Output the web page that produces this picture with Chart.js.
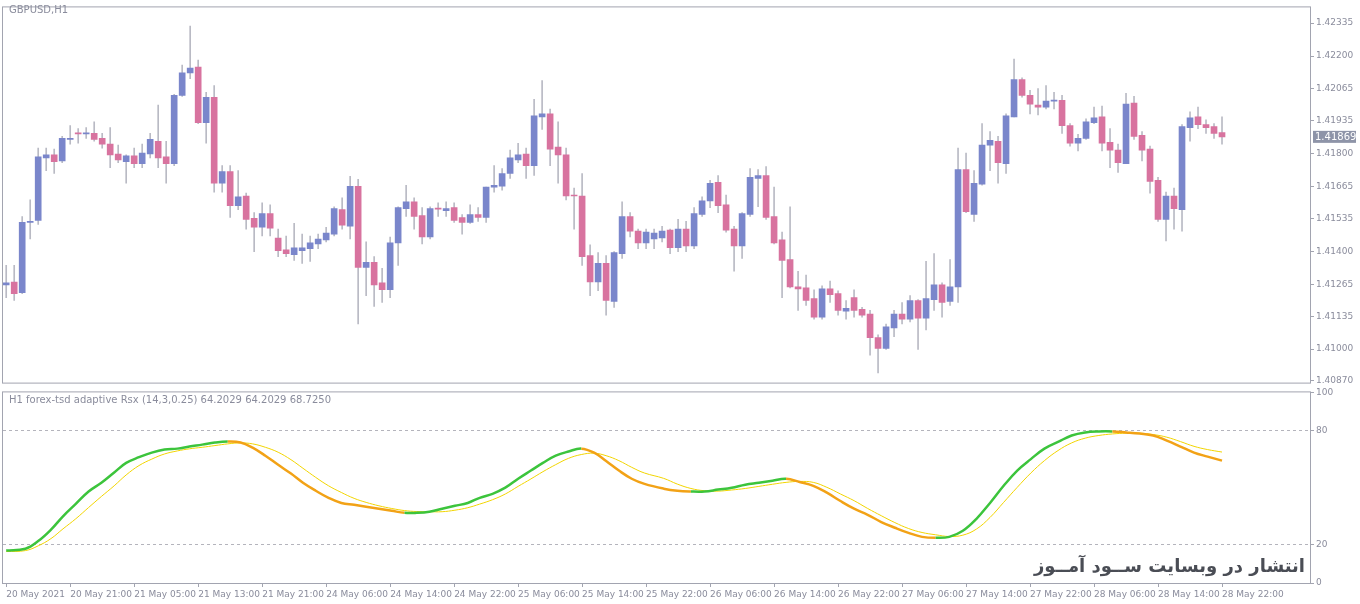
<!DOCTYPE html>
<html lang="en">
<head>
<meta charset="UTF-8">
<title>GBPUSD H1 - adaptive Rsx</title>
<script src="https://cdn.jsdelivr.net/npm/chart.js"></script>
<style>
  html, body { margin: 0; padding: 0; background: #fff; }
  #wrap { position: relative; width: 1360px; height: 604px; overflow: hidden; }
  .pane { position: absolute; left: 0; width: 1360px; }
  .lbl { position: absolute; font: 10px "DejaVu Sans", sans-serif; color: #8a8c9c; white-space: nowrap; }
  #mark { position: absolute; right: 55px; top: 555px; font: bold 18px "DejaVu Sans", sans-serif; color: #4a4d55; direction: rtl; }
</style>
</head>
<body>
<div id="wrap">
  <div class="pane" style="top:0;height:390px"><canvas id="priceChart"></canvas></div>
  <div class="pane" style="top:385px;height:219px"><canvas id="rsxChart"></canvas></div>
  <div class="lbl" style="left:9px;top:4px">GBPUSD,H1</div>
  <div class="lbl" style="left:9px;top:394px">H1 forex-tsd adaptive Rsx (14,3,0.25) 64.2029 64.2029 68.7250</div>
  <div id="mark">انتشار در وبسایت ســود آمــوز</div>
</div>

<script>
// hourly candles, 20 May 13:00 .. 28 May 22:00
const opens = [1.41263,1.41275,1.41231,1.41519,1.41527,1.41783,1.41795,1.41771,1.41859,1.41883,
1.41881,1.41883,1.41863,1.41839,1.41799,1.41767,1.41791,1.41759,1.41799,1.41851,
1.41787,1.41759,1.42039,1.42131,1.42155,1.41927,1.42031,1.41679,1.41727,1.41587,
1.41627,1.41535,1.41499,1.41555,1.41455,1.41407,1.41387,1.41403,1.41411,1.41431,
1.41447,1.41471,1.41571,1.41503,1.41667,1.41335,1.41355,1.41271,1.41243,1.41435,
1.41575,1.41603,1.41547,1.41459,1.41575,1.41567,1.41579,1.41539,1.41519,1.41551,
1.41539,1.41663,1.41667,1.41719,1.41775,1.41799,1.41751,1.41951,1.41963,1.41827,
1.41795,1.41631,1.41627,1.41383,1.41275,1.41351,1.41195,1.41391,1.41543,1.41483,
1.41435,1.41451,1.41455,1.41487,1.41415,1.41491,1.41423,1.41551,1.41607,1.41683,
1.41591,1.41491,1.41423,1.41551,1.41699,1.41711,1.41543,1.41447,1.41367,1.41255,
1.41251,1.41207,1.41131,1.41247,1.41227,1.41155,1.41211,1.41163,1.41143,1.41047,
1.41003,1.41087,1.41143,1.41123,1.41199,1.41127,1.41203,1.41263,1.41195,1.41255,
1.41735,1.41551,1.41675,1.41835,1.41851,1.41759,1.41951,1.42103,1.42039,1.41999,
1.41991,1.42015,1.42019,1.41915,1.41843,1.41863,1.41927,1.41951,1.41847,1.41815,
1.41759,1.42007,1.41875,1.41819,1.41691,1.41531,1.41627,1.41571,1.41907,1.41951,
1.41919,1.41911,1.41887];
const highs = [1.41343,1.41343,1.41543,1.41611,1.41823,1.41823,1.41819,1.41871,1.41915,1.41903,
1.41907,1.41931,1.41883,1.41907,1.41835,1.41795,1.41823,1.41839,1.41883,1.41999,
1.41851,1.42043,1.42163,1.42323,1.42183,1.42051,1.42079,1.41751,1.41751,1.41731,
1.41639,1.41559,1.41599,1.41591,1.41491,1.41463,1.41515,1.41471,1.41463,1.41471,
1.41499,1.41583,1.41619,1.41707,1.41695,1.41439,1.41379,1.41331,1.41459,1.41583,
1.41671,1.41619,1.41579,1.41583,1.41599,1.41603,1.41599,1.41551,1.41591,1.41579,
1.41663,1.41751,1.41739,1.41815,1.41843,1.41823,1.42023,1.42099,1.41983,1.41931,
1.41823,1.41659,1.41719,1.41427,1.41395,1.41383,1.41399,1.41603,1.41559,1.41491,
1.41491,1.41491,1.41503,1.41491,1.41531,1.41523,1.41579,1.41623,1.41691,1.41711,
1.41631,1.41503,1.41559,1.41739,1.41735,1.41747,1.41663,1.41479,1.41583,1.41319,
1.41303,1.41243,1.41259,1.41279,1.41239,1.41199,1.41243,1.41171,1.41159,1.41059,
1.41103,1.41159,1.41191,1.41219,1.41203,1.41359,1.41391,1.41271,1.41367,1.41823,
1.41803,1.41731,1.41923,1.41891,1.41871,1.41963,1.42187,1.42111,1.42059,1.42067,
1.42079,1.42051,1.42039,1.41923,1.41879,1.41943,1.41991,1.41995,1.41903,1.41839,
1.42047,1.42035,1.41891,1.41831,1.41703,1.41643,1.41659,1.41919,1.41971,1.41991,
1.41939,1.41923,1.41951];
const lows = [1.41211,1.41199,1.41227,1.41451,1.41511,1.41731,1.41719,1.41763,1.41839,1.41843,
1.41863,1.41851,1.41823,1.41743,1.41763,1.41679,1.41743,1.41743,1.41783,1.41743,
1.41679,1.41751,1.42035,1.42107,1.41923,1.41843,1.41643,1.41643,1.41539,1.41571,
1.41491,1.41399,1.41463,1.41463,1.41379,1.41379,1.41363,1.41351,1.41359,1.41411,
1.41439,1.41463,1.41491,1.41451,1.41103,1.41219,1.41175,1.41191,1.41211,1.41343,
1.41543,1.41491,1.41431,1.41451,1.41543,1.41543,1.41519,1.41471,1.41515,1.41523,
1.41519,1.41643,1.41651,1.41699,1.41763,1.41699,1.41711,1.41899,1.41751,1.41679,
1.41611,1.41491,1.41343,1.41219,1.41239,1.41139,1.41171,1.41371,1.41459,1.41411,
1.41411,1.41411,1.41439,1.41391,1.41399,1.41399,1.41411,1.41543,1.41579,1.41559,
1.41479,1.41319,1.41371,1.41543,1.41583,1.41531,1.41431,1.41211,1.41251,1.41159,
1.41179,1.41123,1.41123,1.41191,1.41139,1.41123,1.41131,1.41131,1.40975,1.40903,
1.40999,1.41051,1.41103,1.41111,1.40999,1.41079,1.41159,1.41131,1.41179,1.41191,
1.41559,1.41523,1.41671,1.41731,1.41679,1.41719,1.41951,1.42031,1.41963,1.41959,
1.41983,1.41983,1.41883,1.41831,1.41811,1.41859,1.41923,1.41811,1.41743,1.41723,
1.41759,1.41859,1.41771,1.41639,1.41523,1.41443,1.41491,1.41483,1.41851,1.41903,
1.41883,1.41863,1.41839];
const closes = [1.41271,1.41227,1.41519,1.41523,1.41787,1.41795,1.41767,1.41863,1.41863,1.41881,
1.41883,1.41859,1.41839,1.41795,1.41775,1.41791,1.41759,1.41803,1.41859,1.41783,
1.41759,1.42039,1.42131,1.42151,1.41927,1.42031,1.41679,1.41727,1.41587,1.41623,
1.41531,1.41499,1.41555,1.41495,1.41403,1.41391,1.41415,1.41415,1.41435,1.41451,
1.41475,1.41575,1.41507,1.41667,1.41335,1.41355,1.41263,1.41243,1.41435,1.41579,
1.41603,1.41543,1.41459,1.41575,1.41573,1.41575,1.41527,1.41519,1.41551,1.41539,
1.41663,1.41671,1.41719,1.41783,1.41795,1.41751,1.41955,1.41963,1.41819,1.41795,
1.41627,1.41627,1.41379,1.41275,1.41351,1.41199,1.41395,1.41543,1.41483,1.41435,
1.41479,1.41475,1.41483,1.41415,1.41491,1.41423,1.41555,1.41607,1.41679,1.41587,
1.41487,1.41423,1.41555,1.41703,1.41711,1.41539,1.41435,1.41363,1.41255,1.41247,
1.41199,1.41131,1.41247,1.41223,1.41159,1.41167,1.41159,1.41139,1.41047,1.41003,
1.41091,1.41143,1.41123,1.41199,1.41127,1.41207,1.41263,1.41191,1.41255,1.41735,
1.41563,1.41679,1.41835,1.41855,1.41763,1.41955,1.42103,1.42039,1.42003,1.41991,
1.42015,1.42019,1.41915,1.41843,1.41863,1.41931,1.41947,1.41843,1.41815,1.41763,
1.42003,1.41871,1.41815,1.41687,1.41531,1.41627,1.41575,1.41911,1.41947,1.41919,
1.41907,1.41883,1.41869];

const priceTicks = [1.42335,1.42200,1.42065,1.41935,1.41800,1.41665,1.41535,1.41400,1.41265,1.41135,1.41000,1.40870];
const lastPrice = 1.41869;

const timeLabels = ['20 May 2021','20 May 21:00','21 May 05:00','21 May 13:00','21 May 21:00',
  '24 May 06:00','24 May 14:00','24 May 22:00','25 May 06:00','25 May 14:00','25 May 22:00',
  '26 May 06:00','26 May 14:00','26 May 22:00','27 May 06:00','27 May 14:00','27 May 22:00',
  '28 May 06:00','28 May 14:00','28 May 22:00'];

// adaptive Rsx readings (bar index, rsx, signal)
const rsxBar = [0,2.4,4,5.6,7.1,8.7,10.3,11.9,13.5,15,16.6,18.2,19.8,21.4,22.9,24.5,26.1,27.7,29.3,30.8,
  32.4,34,35.6,37.1,38.7,40.3,41.9,43.5,45,46.6,48.2,49.8,51.3,52.9,54.5,56.1,57.7,59.2,60.8,62.4,
  64,65.6,67.1,68.7,70.3,71.9,73.5,75,76.6,78.2,79.8,
  82.2,83.9,85.6,87.3,89,90.7,92.4,94.1,95.8,97.5,99.2,100.9,102.6,104.3,106,107.7,109.4,111.1,112.8,114.5,
  116.2,117.9,119.6,121.3,123,124.7,126.4,128.1,129.8,131.5,133.2,134.9,136.6,138.3,140,141.7,143.4,145.1,146.8,148.5,150.2,152];
const rsxMain = [17,18,22,28,35,41.5,48,52.6,58,63,66,68.4,70,70.5,71.6,72.6,73.7,74.2,73.7,71,
  66.8,62,57.4,52.6,48.4,44.7,42,41,40,39,37.9,36.8,36.8,37.4,39,40.5,42,44.7,46.8,50,
  54.7,59,63,66.8,69,70.5,68.4,64,59,54.7,52,
  49.5,48.4,48,48,49,50,51.6,52.6,53.7,54.7,53,51,47.4,43,39,35.8,32,29,26.3,24.2,
  23.7,24.2,27.4,33.7,42,51,59,65,70.5,74,77.4,79,79.5,79.5,79,78.4,77.4,74.7,71.6,68.4,66.3,64.2];
const rsxSignal = [16.5,17,19.5,23.3,28.4,33.7,39.6,45.4,51,56.7,61.6,65,67.7,69.3,70.4,71.2,72.1,73,73.5,73,
  71.2,68.6,64.7,60.2,55.4,51,47.5,44.4,42.3,40.5,39.1,38,37.5,37.4,37.4,38.2,39.5,41.4,43.7,46.7,
  50.7,54.6,58.4,62.1,65.4,67.4,68.1,66.8,64.2,60.7,57.7,
  54.9,51.9,49.6,48.4,48.2,48.8,49.6,50.7,51.8,52.8,53.3,52.8,50.2,46.7,43.2,39.1,35.3,31.7,28.6,26.5,
  25.3,24.4,25.1,28.3,34.4,42.3,50.2,57.7,64.2,69.5,73.5,76,77.4,78.2,78.6,78.6,77.9,76.5,74.2,71.7,70,68.7];
const rsxLevels = [0, 20, 80, 100];

const UP = '#7a86cb', DOWN = '#d8739f', WICK = '#b9bac4', FRAME = '#a2a4b0', TXT = '#8a8c9c';
const X_MIN = -0.4, X_MAX = 163;
const AXIS_W = 50;

const framePlugin = {
  id: 'frame',
  afterDraw(chart) {
    const a = chart.chartArea, c = chart.ctx;
    c.save();
    c.strokeStyle = FRAME; c.lineWidth = 1;
    c.strokeRect(a.left - 0.5, a.top - 0.5, a.right - a.left + 1, a.bottom - a.top + 1);
    c.restore();
  }
};

const lastPricePlugin = {
  id: 'lastPrice',
  afterDraw(chart) {
    const y = chart.scales.y.getPixelForValue(lastPrice);
    const c = chart.ctx, x = chart.chartArea.right + 3;
    c.save();
    c.fillStyle = '#8e94a8';
    c.fillRect(x, y - 6, 43, 12);
    c.fillStyle = '#fff';
    c.font = '10px "DejaVu Sans"';
    c.textBaseline = 'middle';
    c.fillText(lastPrice.toFixed(5), x + 2, y + 0.5);
    c.restore();
  }
};

const idx = opens.map((_, i) => i);
const bull = idx.map(i => closes[i] >= opens[i]);

new Chart(document.getElementById('priceChart'), {
  type: 'bar',
  data: {
    datasets: [
      {
        data: idx.map(i => ({ x: i, y: [lows[i], highs[i]] })),
        backgroundColor: WICK, barThickness: 1, grouped: false, order: 2
      },
      {
        data: idx.map(i => ({ x: i, y: [Math.min(opens[i], closes[i]), Math.max(opens[i], closes[i])] })),
        backgroundColor: idx.map(i => bull[i] ? UP : DOWN),
        barThickness: 6, minBarLength: 1, grouped: false, order: 1
      }
    ]
  },
  options: {
    responsive: true, maintainAspectRatio: false, animation: false,
    layout: { padding: { left: 3, top: 3, bottom: 3, right: 0 } },
    plugins: { legend: { display: false }, tooltip: { enabled: false } },
    scales: {
      x: { type: 'linear', min: X_MIN, max: X_MAX, offset: false, display: false },
      y: {
        position: 'right', min: 1.40863, max: 1.42399,
        afterBuildTicks: s => { s.ticks = priceTicks.map(v => ({ value: v })); },
        afterFit: s => { s.width = AXIS_W; },
        grid: { drawOnChartArea: false, tickLength: 4, tickColor: FRAME },
        border: { display: false },
        ticks: { color: TXT, font: { family: 'DejaVu Sans', size: 9 }, padding: 2, callback: v => v.toFixed(5) }
      }
    }
  },
  plugins: [framePlugin, lastPricePlugin]
});

new Chart(document.getElementById('rsxChart'), {
  type: 'line',
  data: {
    datasets: [
      {
        data: rsxBar.map((b, i) => ({ x: b, y: rsxMain[i] })),
        borderWidth: 2.5, pointRadius: 0, tension: 0.4, order: 1,
        borderColor: '#3cc43c',
        segment: { borderColor: ctx => ctx.p1.parsed.y < ctx.p0.parsed.y ? '#f2a216' : '#3cc43c' }
      },
      {
        data: rsxBar.map((b, i) => ({ x: b, y: rsxSignal[i] })),
        borderColor: '#f2d500', borderWidth: 1, pointRadius: 0, tension: 0.4, order: 2
      }
    ]
  },
  options: {
    responsive: true, maintainAspectRatio: false, animation: false,
    layout: { padding: { left: 3, top: 0, bottom: 0, right: 0 } },
    plugins: { legend: { display: false }, tooltip: { enabled: false } },
    scales: {
      x: {
        type: 'linear', min: X_MIN, max: X_MAX, offset: false,
        afterBuildTicks: s => { s.ticks = timeLabels.map((_, k) => ({ value: k * 8 })); },
        afterFit: s => { s.height = 21; },
        grid: { drawOnChartArea: false, tickLength: 4, tickColor: FRAME },
        border: { display: false },
        ticks: {
          color: TXT, font: { family: 'DejaVu Sans', size: 9 }, align: 'start', padding: 2,
          maxRotation: 0, autoSkip: false,
          callback: v => timeLabels[Math.round(v / 8)]
        }
      },
      y: {
        position: 'right', min: 0, max: 100,
        afterBuildTicks: s => { s.ticks = rsxLevels.map(v => ({ value: v })); },
        afterFit: s => { s.width = AXIS_W; },
        grid: {
          tickLength: 4, tickColor: FRAME,
          color: c => (c.tick.value === 20 || c.tick.value === 80) ? '#b4b4bc' : 'rgba(0,0,0,0)'
        },
        border: { display: false, dash: [3, 3] },
        ticks: { color: TXT, font: { family: 'DejaVu Sans', size: 9 }, padding: 2 }
      }
    }
  },
  plugins: [framePlugin]
});
</script>
</body>
</html>
